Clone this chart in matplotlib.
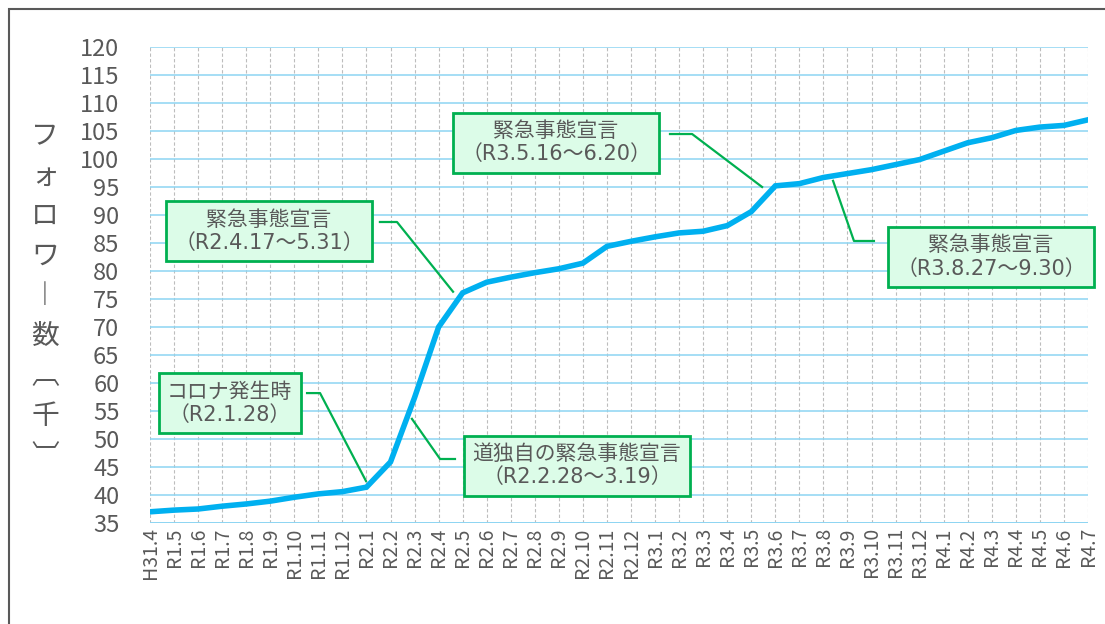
import matplotlib.pyplot as plt
import matplotlib.patches as patches

plt.rcParams['font.family'] = ['Noto Sans CJK JP', 'DejaVu Sans']

# data
months = ["H31.4", "R1.5", "R1.6", "R1.7", "R1.8", "R1.9", "R1.10", "R1.11", "R1.12",
          "R2.1", "R2.2", "R2.3", "R2.4", "R2.5", "R2.6", "R2.7", "R2.8", "R2.9",
          "R2.10", "R2.11", "R2.12", "R3.1", "R3.2", "R3.3", "R3.4", "R3.5", "R3.6",
          "R3.7", "R3.8", "R3.9", "R3.10", "R3.11", "R3.12", "R4.1", "R4.2", "R4.3",
          "R4.4", "R4.5", "R4.6", "R4.7"]
followers = [37.0, 37.3, 37.5, 38.0, 38.4, 38.9, 39.6, 40.2, 40.6,
             41.4, 45.9, 57.4, 70.0, 76.1, 78.0, 78.9, 79.7, 80.4,
             81.4, 84.4, 85.3, 86.1, 86.8, 87.1, 88.1, 90.6, 95.2,
             95.6, 96.7, 97.4, 98.1, 99.0, 99.9, 101.4, 102.9, 103.8,
             105.1, 105.7, 106.0, 107.0]
y_ticks = list(range(35, 121, 5))

# (text, box centre, start of leader, elbow, tip) in data units
notes = [
    ("緊急事態宣言\n（R2.4.17～5.31）", (4.95, 87.1), (9.56, 88.75), (10.27, 88.75), (12.6, 76.3)),
    ("緊急事態宣言\n（R3.5.16～6.20）", (16.88, 102.9), (21.62, 104.46), (22.54, 104.46), (25.45, 95.0)),
    ("緊急事態宣言\n（R3.8.27～9.30）", (34.97, 82.5), (30.1, 85.36), (29.27, 85.36), (28.4, 96.1)),
    ("コロナ発生時\n（R2.1.28）", (3.31, 56.4), (6.53, 58.2), (7.07, 58.2), (8.98, 42.5)),
    ("道独自の緊急事態宣言\n（R2.2.28～3.19）", (17.75, 45.2), (12.68, 46.43), (12.06, 46.43), (10.89, 53.6)),
]

text_col = "#595959"
green = "#00B050"

fig = plt.figure(figsize=(11.05, 6.24), dpi=100)
ax = fig.add_axes([150 / 1105, 1 - 523 / 624, 938 / 1105, 476 / 624])

x = list(range(len(months)))
ax.plot(x, followers, color="#00B0F0", lw=4, solid_joinstyle="miter", zorder=3)

ax.set_xlim(0, len(months) - 1)
ax.set_ylim(35, 120)
ax.set_yticks(y_ticks)
ax.set_yticklabels([str(v) for v in y_ticks], fontsize=17, color=text_col)
ax.set_xticks(x)
ax.set_xticklabels(months, rotation=90, fontsize=14, color=text_col)
ax.tick_params(length=0, pad=3)
ax.tick_params(axis="y", pad=22)

for v in y_ticks:
    ax.axhline(v, color="#8DD5F2", lw=1.1, zorder=1)
ax.axhline(35, color="#8DD5F2", lw=2, zorder=1)
for xi in x:
    ax.axvline(xi, color="#BDBDBD", lw=0.8, ls=(0, (3, 2)), zorder=0)
for s in ax.spines.values():
    s.set_visible(False)

for txt, box, start, elbow, tip in notes:
    ax.text(box[0], box[1], txt, ha="center", va="center", fontsize=15,
            family=['DejaVu Sans', 'Noto Sans CJK JP'],
            color=text_col, linespacing=1.2, zorder=5,
            bbox=dict(boxstyle="square,pad=0.4", fc="#DCFCE8", ec=green, lw=2))
    ax.plot([start[0], elbow[0], tip[0]], [start[1], elbow[1], tip[1]],
            color=green, lw=1.6, zorder=4, clip_on=False)

fig.text(45 / 1105, 1 - 296 / 624, "\n".join("フォロワ︱数︹千︺"), ha="center", va="center",
         fontsize=20, color=text_col, linespacing=1.43)

fig.patches.append(patches.Rectangle((9 / 1105, -0.1), 1.5, 1.1 - 9 / 624,
                                     transform=fig.transFigure, fill=False,
                                     ec="#595959", lw=1.5))

fig.savefig("out.png", dpi=100)
